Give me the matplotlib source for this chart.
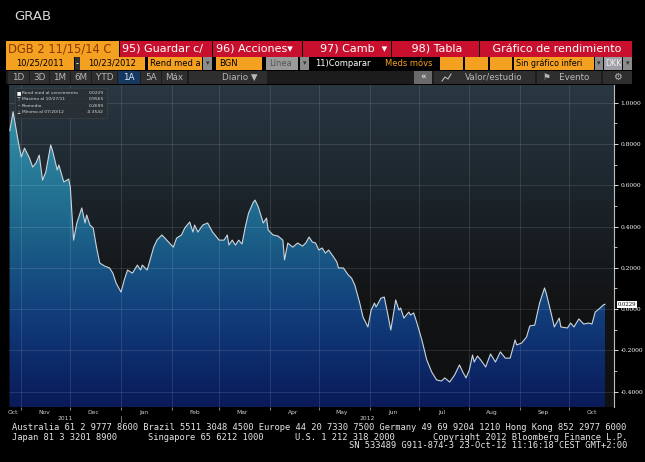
import matplotlib
matplotlib.use("Agg")
import matplotlib.pyplot as plt
import matplotlib.dates as mdates
import matplotlib.transforms as mtransforms
from matplotlib.colors import LinearSegmentedColormap
from matplotlib.patches import Rectangle
from matplotlib.ticker import FixedLocator, FormatStrFormatter
import numpy as np
import pandas as pd

# yield to maturity, DGB 2 11/15/14
dates = [
    "2011-10-25", "2011-10-27", "2011-10-30", "2011-11-01", "2011-11-03", "2011-11-06",
    "2011-11-08", "2011-11-10", "2011-11-12", "2011-11-14", "2011-11-16", "2011-11-19",
    "2011-11-20", "2011-11-23", "2011-11-24", "2011-11-27", "2011-11-30", "2011-12-01",
    "2011-12-03", "2011-12-05", "2011-12-08", "2011-12-10", "2011-12-11", "2011-12-13",
    "2011-12-15", "2011-12-17", "2011-12-19", "2011-12-22", "2011-12-25", "2011-12-27",
    "2011-12-29", "2012-01-01", "2012-01-03", "2012-01-05", "2012-01-08", "2012-01-11",
    "2012-01-13", "2012-01-14", "2012-01-17", "2012-01-21", "2012-01-23", "2012-01-26",
    "2012-01-29", "2012-02-02", "2012-02-04", "2012-02-07", "2012-02-09", "2012-02-12",
    "2012-02-14", "2012-02-15", "2012-02-17", "2012-02-20", "2012-02-23", "2012-02-26",
    "2012-03-01", "2012-03-04", "2012-03-06", "2012-03-07", "2012-03-09", "2012-03-11",
    "2012-03-13", "2012-03-15", "2012-03-17", "2012-03-19", "2012-03-22", "2012-03-23",
    "2012-03-25", "2012-03-28", "2012-03-30", "2012-03-31", "2012-04-03", "2012-04-06",
    "2012-04-09", "2012-04-10", "2012-04-12", "2012-04-15", "2012-04-18", "2012-04-21",
    "2012-04-23", "2012-04-25", "2012-04-27", "2012-04-29", "2012-05-01", "2012-05-03",
    "2012-05-05", "2012-05-07", "2012-05-10", "2012-05-12", "2012-05-13", "2012-05-16",
    "2012-05-19", "2012-05-21", "2012-05-23", "2012-05-26", "2012-05-28", "2012-05-31",
    "2012-06-02", "2012-06-04", "2012-06-05", "2012-06-08", "2012-06-10", "2012-06-12",
    "2012-06-14", "2012-06-17", "2012-06-19", "2012-06-20", "2012-06-22", "2012-06-25",
    "2012-06-26", "2012-06-28", "2012-06-30", "2012-07-03", "2012-07-06", "2012-07-09",
    "2012-07-12", "2012-07-15", "2012-07-17", "2012-07-20", "2012-07-23", "2012-07-26",
    "2012-07-28", "2012-07-30", "2012-08-01", "2012-08-03", "2012-08-04", "2012-08-06",
    "2012-08-08", "2012-08-11", "2012-08-14", "2012-08-17", "2012-08-20", "2012-08-23",
    "2012-08-26", "2012-08-29", "2012-08-30", "2012-09-02", "2012-09-05", "2012-09-07",
    "2012-09-10", "2012-09-13", "2012-09-16", "2012-09-17", "2012-09-20", "2012-09-22",
    "2012-09-25", "2012-09-26", "2012-09-30", "2012-10-02", "2012-10-04", "2012-10-07",
    "2012-10-10", "2012-10-13", "2012-10-15", "2012-10-17", "2012-10-20", "2012-10-22",
    "2012-10-23",
]
yields = [
    0.865, 0.9565, 0.819, 0.737, 0.780, 0.732,
    0.688, 0.708, 0.746, 0.625, 0.664, 0.795,
    0.771, 0.674, 0.698, 0.616, 0.630, 0.591,
    0.334, 0.417, 0.490, 0.417, 0.456, 0.407,
    0.393, 0.300, 0.223, 0.208, 0.199, 0.174,
    0.126, 0.082, 0.141, 0.189, 0.174, 0.213,
    0.189, 0.213, 0.189, 0.300, 0.334, 0.359,
    0.334, 0.300, 0.344, 0.359, 0.393, 0.422,
    0.373, 0.407, 0.373, 0.407, 0.417, 0.373,
    0.334, 0.334, 0.359, 0.310, 0.334, 0.310,
    0.334, 0.315, 0.397, 0.465, 0.519, 0.528,
    0.494, 0.417, 0.441, 0.383, 0.359, 0.354,
    0.334, 0.238, 0.320, 0.300, 0.320, 0.305,
    0.320, 0.349, 0.325, 0.320, 0.286, 0.296,
    0.271, 0.286, 0.252, 0.228, 0.199, 0.199,
    0.165, 0.150, 0.116, 0.029, -0.039, -0.087,
    -0.005, 0.029, 0.010, 0.053, 0.058, -0.019,
    -0.102, 0.044, -0.005, 0.005, -0.044, -0.015,
    -0.029, -0.019, -0.068, -0.150, -0.247, -0.305,
    -0.344, -0.349, -0.334, -0.3542, -0.320, -0.271,
    -0.305, -0.334, -0.296, -0.223, -0.257, -0.228,
    -0.247, -0.281, -0.218, -0.257, -0.208, -0.238,
    -0.238, -0.150, -0.174, -0.165, -0.136, -0.082,
    -0.078, 0.029, 0.102, 0.078, -0.019, -0.087,
    -0.044, -0.087, -0.092, -0.068, -0.087, -0.048,
    -0.073, -0.068, -0.073, -0.015, 0.005, 0.020,
    0.0229,
]
avg_yield = 0.2699
y_ticks = [-0.4, -0.2, 0.0, 0.2, 0.4, 0.6, 0.8, 1.0]
row3_buttons = ["1D", "3D", "1M", "6M", "YTD", "1A", "5A", "Máx"]
footer_line1 = ("Australia 61 2 9777 8600 Brazil 5511 3048 4500 Europe 44 20 7330 7500 "
                "Germany 49 69 9204 1210 Hong Kong 852 2977 6000")
footer_line2 = ["Japan 81 3 3201 8900", "Singapore 65 6212 1000", "U.S. 1 212 318 2000",
                "Copyright 2012 Bloomberg Finance L.P."]
footer_line3 = "SN 533489 G911-874-3 23-Oct-12 11:16:18 CEST GMT+2:00"

ORANGE = "#f4a020"
RED = "#c8102e"
GREY = "#8c8c8c"

x = pd.to_datetime(dates)
xn = mdates.date2num(x)
x0 = mdates.date2num(pd.Timestamp("2011-10-24 12:00"))
x1 = mdates.date2num(pd.Timestamp("2012-10-28 12:00"))
ylo, yhi = -0.475, 1.086

fig = plt.figure(figsize=(6.45, 4.62), dpi=100, facecolor="black")

# ---- chart panel
ax = fig.add_axes([9 / 645, (462 - 407) / 462, 605 / 645, 322 / 462])
ax.set_xlim(x0, x1)
ax.set_ylim(ylo, yhi)
ax.set_facecolor("#151719")

grad = np.linspace(0, 1, 256).reshape(-1, 1)
bg_cmap = LinearSegmentedColormap.from_list(
    "bg", [(0, "#0f1011"), (0.3, "#121314"), (0.5, "#171c20"),
           (0.75, "#1f2a32"), (1, "#2a3842")])
ax.imshow(grad, extent=[x0, x1, ylo, yhi], origin="lower", aspect="auto",
          cmap=bg_cmap, zorder=0)

fill_cmap = LinearSegmentedColormap.from_list(
    "fill", [(0, "#0a1a58"), (0.17, "#0e2e6e"), (0.304, "#12407c"),
             (0.5, "#1a5c86"), (0.69, "#257695"), (0.95, "#3692aa"), (1, "#3c98ae")])
poly = ax.fill_between(xn, yields, ylo, facecolor="none", edgecolor="none")
im = ax.imshow(grad, extent=[x0, x1, ylo, yhi], origin="lower", aspect="auto",
               cmap=fill_cmap, zorder=1)
im.set_clip_path(poly.get_paths()[0], transform=ax.transData)

ax.plot(xn, yields, color="#ccd5dc", lw=0.8, zorder=3)

ax.set_axisbelow(False)
ax.xaxis.set_major_locator(mdates.MonthLocator())
ax.yaxis.set_major_locator(FixedLocator(y_ticks))
ax.yaxis.set_minor_locator(FixedLocator([t + 0.1 for t in y_ticks]))
ax.grid(True, which="major", color="white", alpha=0.13, lw=0.6)

ax.yaxis.tick_right()
ax.yaxis.set_major_formatter(FormatStrFormatter("%.4f"))
ax.tick_params(axis="y", which="major", colors="white", labelsize=4.3, length=3,
               width=0.6, pad=1.5, labelfontfamily="DejaVu Serif")
ax.tick_params(axis="y", which="minor", colors="white", length=1.8, width=0.5)
ax.tick_params(axis="x", which="major", labelbottom=False, length=2.5, color="#777777")

# month labels in the middle of each month
label_pos, label_txt = [], []
for m in pd.date_range("2011-10-01", "2012-10-01", freq="MS"):
    mid = m + pd.Timedelta(days=14)
    if mdates.date2num(mid) < x0:
        mid = pd.Timestamp("2011-10-27")
    label_pos.append(mdates.date2num(mid))
    label_txt.append(m.strftime("%b"))
ax.set_xticks(label_pos, minor=True)
ax.set_xticklabels(label_txt, minor=True)
ax.tick_params(axis="x", which="minor", length=0, labelsize=4.3,
               labelcolor="#cfcfcf", pad=2.5)

for s in ["left", "top", "bottom"]:
    ax.spines[s].set_visible(False)
ax.spines["right"].set_color("#bdbdbd")
ax.spines["right"].set_linewidth(0.8)

trans_x = mtransforms.blended_transform_factory(ax.transData, ax.transAxes)
jan1 = mdates.date2num(pd.Timestamp("2012-01-01"))
ax.text((x0 + jan1) / 2, -0.035, "2011", transform=trans_x, fontsize=4.3,
        color="#cfcfcf", ha="center", va="center")
ax.text((jan1 + x1) / 2, -0.035, "2012", transform=trans_x, fontsize=4.3,
        color="#cfcfcf", ha="center", va="center")
ax.plot([jan1, jan1], [-0.027, -0.048], transform=trans_x, clip_on=False,
        color="#888888", lw=0.6)

trans_y = mtransforms.blended_transform_factory(ax.transAxes, ax.transData)
ax.text(1.006, yields[-1], "%.4f" % yields[-1], transform=trans_y, fontsize=3.8,
        family="DejaVu Serif", color="black", ha="left", va="center", clip_on=False,
        bbox=dict(fc="white", ec="none", pad=0.6), zorder=6)

# ---- pixel overlay for toolbar, legend and footer
ui = fig.add_axes([0, 0, 1, 1], zorder=10)
ui.set_xlim(0, 645)
ui.set_ylim(462, 0)
ui.axis("off")


def box(x0_, x1_, y0_, y1_, fc, text="", tc="white", size=6, ha="left", pad=2.5, **kw):
    ui.add_patch(Rectangle((x0_, y0_), x1_ - x0_, y1_ - y0_, fc=fc, ec="none"))
    if text:
        tx = x0_ + pad if ha == "left" else (x0_ + x1_) / 2
        ui.text(tx, (y0_ + y1_) / 2, text, color=tc, fontsize=size, ha=ha,
                va="center", **kw)


ui.text(14, 17, "GRAB", color="#d8d8d8", fontsize=9.5, va="center")

# row 1
r1 = (40.5, 56.5)
box(6, 119, *r1, ORANGE, "DGB 2 11/15/14 C", tc="#8a3a00", size=8.3, pad=2)
for (a, b, t) in [(119, 212, "95) Guardar c/"), (212, 302, "96) Acciones▾"),
                  (302, 391, "    97) Camb  ▾"), (391, 479, "     98) Tabla"),
                  (479, 632, "   Gráfico de rendimiento")]:
    box(a + 0.5, b - 0.5, *r1, RED, t, size=8, pad=3)

# row 2
r2 = (57, 69.5)
box(6, 74, *r2, ORANGE, "10/25/2011", tc="black", size=6, ha="center")
box(74.5, 79.5, *r2, "#303030", "-", size=6, ha="center")
box(80, 145, *r2, ORANGE, "10/23/2012", tc="black", size=6, ha="center")
box(148, 202, *r2, ORANGE, "Rend med a", tc="black", size=6, pad=2)
box(203, 212, *r2, GREY, "▾", tc="#333333", size=5, ha="center")
box(216, 262, *r2, ORANGE, "BGN", tc="black", size=6, pad=3)
box(266, 298, *r2, "#9a9a9a", "Línea", tc="#555555", size=6, pad=3)
box(300, 309, *r2, GREY, "▾", tc="#333333", size=5, ha="center")
box(313, 372, *r2, "black", "11)Comparar", size=6, pad=2)
box(383, 438, *r2, "black", "Meds móvs", tc=ORANGE, size=6, pad=2)
for a, b in [(440, 463), (465, 488), (490, 512)]:
    box(a, b, *r2, ORANGE)
box(514, 594, *r2, ORANGE, "Sin gráfico inferi", tc="black", size=5.8, pad=2)
box(595, 603, *r2, GREY, "▾", tc="#333333", size=5, ha="center")
box(604, 622, *r2, "#a0a0a8", "DKK", tc="#eeeeee", size=5.8, ha="center")
box(623, 632, *r2, GREY, "▾", tc="#333333", size=5, ha="center")

# row 3
r3 = (70.5, 84)
box(6, 632, *r3, "#1c1c1c")
edges = [8, 30, 50, 71, 92, 118, 141, 162, 188]
for i, t in enumerate(row3_buttons):
    fc, tc = ("#16375e", "#dce9ff") if t == "1A" else ("#2e2e2e", "#b8b8b8")
    box(edges[i], edges[i + 1] - 1, *r3, fc, t, tc=tc, size=6.3, ha="center")
box(189, 267, *r3, "#2e2e2e", "Diario ▼", tc="#b8b8b8", size=6.3, pad=33)
box(414, 432, *r3, "#6a6a6a", "«", tc="white", size=6.5, ha="center")
box(434, 535, *r3, "#2e2e2e", "Valor/estudio", tc="#b8b8b8", size=6.3, pad=31)
ui.plot([442, 445, 448, 451], [81, 77, 79, 74], color="#b8b8b8", lw=0.8)
box(537, 601, *r3, "#2e2e2e", "⚑   Evento", tc="#b8b8b8", size=6.3, pad=6)
box(603, 632, *r3, "#2e2e2e", "⚙", tc="#b8b8b8", size=7, ha="center")

# legend box
ui.add_patch(Rectangle((15, 88), 92, 30, fc="#2a3035", ec="#3c4348", lw=0.5, alpha=0.9))
legend_rows = [("■", "Rend med al vencimiento", yields[-1]),
               ("⊤", "Máximo al 10/27/11", max(yields)),
               ("–", "Promedio", avg_yield),
               ("⊥", "Mínimo al 07/20/12", min(yields))]
for i, (sym, lab, val) in enumerate(legend_rows):
    yy = 92.5 + i * 6.6
    ui.text(18.5, yy, sym, color="white", fontsize=3.3, ha="center", va="center")
    ui.text(22, yy, lab, color="#d8d8d8", fontsize=3.2, va="center")
    ui.text(104, yy, "%.4f" % val, color="#d8d8d8", fontsize=3.2, ha="right", va="center")

# footer
mono = dict(family="DejaVu Sans Mono", fontsize=6.3, color="#e6e6e6", va="center")
ui.text(11.5, 428, footer_line1, **mono)
for xx, t in zip([11.5, 148, 295], footer_line2[:3]):
    ui.text(xx, 437, t, **mono)
ui.text(627, 437, footer_line2[3], ha="right", **mono)
ui.text(627, 446, footer_line3, ha="right", **mono)

fig.savefig("out.png", dpi=100, facecolor="black")
